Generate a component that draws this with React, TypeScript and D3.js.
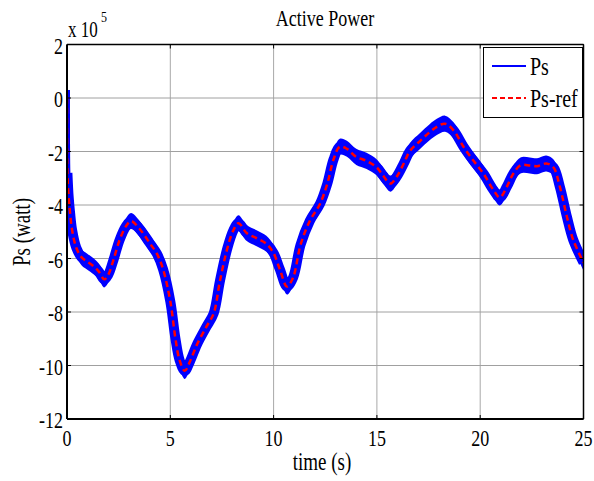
import * as d3 from 'd3';

// time (s) and active power (x 1e5 W)
const timeS = [0, 0.02, 0.08, 0.15, 0.25, 0.45, 0.7, 0.95, 1.3, 1.55, 1.8, 2.0, 2.25, 2.55, 2.85, 3.1, 3.5, 4.0, 4.35, 4.65, 5.0, 5.25, 5.45, 5.7, 5.95, 6.3, 6.75, 7.1, 7.4, 7.75, 8.05, 8.3, 8.7, 9.2, 9.65, 10.0, 10.3, 10.65, 10.95, 11.3, 11.75, 12.25, 12.6, 12.9, 13.2, 13.55, 14.0, 14.5, 15.0, 15.3, 15.65, 15.95, 16.3, 16.6, 17.1, 17.55, 17.9, 18.3, 18.7, 19.2, 19.65, 20.15, 20.65, 20.95, 21.3, 21.6, 21.95, 22.4, 22.75, 23.2, 23.55, 23.85, 24.2, 24.5, 25];
const psRef = [0, -2.8, -3.7, -4.3, -4.95, -5.6, -5.95, -6.1, -6.3, -6.5, -6.78, -6.6, -6.05, -5.3, -4.8, -4.6, -4.88, -5.42, -5.82, -6.4, -7.6, -9.0, -9.8, -10.2, -9.85, -9.2, -8.55, -8.05, -6.85, -5.65, -4.95, -4.68, -5.05, -5.25, -5.45, -5.8, -6.4, -7.05, -6.7, -5.5, -4.6, -3.95, -3.2, -2.3, -1.82, -1.9, -2.2, -2.35, -2.6, -2.9, -3.2, -2.95, -2.45, -1.98, -1.6, -1.28, -1.08, -0.96, -1.2, -1.83, -2.32, -2.82, -3.45, -3.72, -3.3, -2.83, -2.52, -2.52, -2.55, -2.45, -2.6, -3.3, -4.45, -5.3, -6.15];
const ps = psRef.map((v, i) => (i === 0 ? 0.3 : v));
const psRipple = 0.3; // +/- band of the measured power

const xTicks = [0, 5, 10, 15, 20, 25];
const yTicks = [2, 0, -2, -4, -6, -8, -10, -12];

const W = 594, H = 481;
const m = { left: 67, right: 583.5, top: 44.5, bottom: 419 };
const FONT = '"Liberation Serif", "Times New Roman", serif';
const SY = 1.3;

function T({ x, y, size = 18, anchor = 'middle', rot = 0, children }: any) {
  return (
    <text transform={`translate(${x},${y}) rotate(${rot}) scale(1,${SY})`}
      fontFamily={FONT} fontSize={size} textAnchor={anchor} fill="#000">{children}</text>
  );
}

export default function App() {
  const x = d3.scaleLinear().domain([0, 25]).range([m.left, m.right]);
  const y = d3.scaleLinear().domain([-12, 2]).range([m.bottom, m.top]);

  const ptsPs = timeS.map((t, i) => ({ t, v: ps[i] }));
  const ptsRef = timeS.map((t, i) => ({ t, v: psRef[i] }));

  const curve = d3.curveCatmullRom.alpha(0.5);
  const line = d3.line<any>().x(d => x(d.t)).y(d => y(d.v)).curve(curve);
  const band = d3.area<any>().x(d => x(d.t))
    .y0(d => y(d.v - psRipple)).y1(d => y(d.v + psRipple)).curve(curve);

  return (
    <svg width={W} height={H} style={{ position: 'absolute', left: 0, top: 0, background: '#fff' }}>
      <defs>
        <clipPath id="plot">
          <rect x={m.left} y={m.top} width={m.right - m.left} height={m.bottom - m.top} />
        </clipPath>
      </defs>

      {/* grid */}
      {xTicks.map(t => (
        <line key={'gx' + t} x1={x(t)} x2={x(t)} y1={m.top} y2={m.bottom} stroke="#a8a8a8" strokeWidth={1} />
      ))}
      {yTicks.map(t => (
        <line key={'gy' + t} x1={m.left} x2={m.right} y1={y(t)} y2={y(t)} stroke="#a0a0a0" strokeWidth={1} />
      ))}

      {/* series */}
      <g clipPath="url(#plot)">
        <path d={band(ptsPs.slice(2)) || ''} fill="#0000ff" />
        <path d={line(ptsPs.slice(0, 3)) || ''} fill="none" stroke="#0000ff" strokeWidth={6} />
        <path d={line(ptsPs.slice(1)) || ''} fill="none" stroke="#0000ff" strokeWidth={10} strokeLinejoin="round" />
        <path d={line(ptsRef) || ''} fill="none" stroke="#ff0000" strokeWidth={2.5} strokeDasharray="6,4" />
      </g>

      {/* ticks inward, all sides */}
      {xTicks.map(t => (
        <g key={'tx' + t}>
          <line x1={x(t)} x2={x(t)} y1={m.bottom} y2={m.bottom - 4} stroke="#000" />
          <line x1={x(t)} x2={x(t)} y1={m.top} y2={m.top + 4} stroke="#000" />
        </g>
      ))}
      {yTicks.map(t => (
        <g key={'ty' + t}>
          <line x1={m.left} x2={m.left + 4} y1={y(t)} y2={y(t)} stroke="#000" />
          <line x1={m.right} x2={m.right - 4} y1={y(t)} y2={y(t)} stroke="#000" />
        </g>
      ))}

      {/* box */}
      <line x1={m.left} x2={m.right} y1={m.top} y2={m.top} stroke="#000" strokeWidth={1.5} />
      <line x1={m.right} x2={m.right} y1={m.top} y2={m.bottom} stroke="#000" strokeWidth={1.5} />
      <line x1={m.left} x2={m.right} y1={m.bottom} y2={m.bottom} stroke="#000" strokeWidth={2} />
      <line x1={m.left} x2={m.left} y1={m.top} y2={m.bottom} stroke="#000" strokeWidth={2} />

      {/* tick labels */}
      {xTicks.map(t => (
        <T key={'lx' + t} x={x(t)} y={m.bottom + 27}>{t}</T>
      ))}
      {yTicks.map(t => (
        <T key={'ly' + t} x={m.left - 4} y={y(t) + 9} anchor="end">{t}</T>
      ))}

      {/* exponent */}
      <T x={m.left + 1} y={37} anchor="start" size={17}>x 10</T>
      <T x={m.left + 34} y={22} anchor="start" size={12}>5</T>

      {/* titles */}
      <T x={325} y={26}>Active Power</T>
      <T x={322} y={470} size={19}>time (s)</T>
      <T x={30} y={232} rot={-90} size={19}>Ps (watt)</T>

      {/* legend */}
      <rect x={483.5} y={47.5} width={99} height={70} fill="#fff" stroke="#000" strokeWidth={1} />
      <line x1={492} x2={526} y1={66} y2={66} stroke="#0000ff" strokeWidth={2} />
      <line x1={492} x2={526} y1={98} y2={98} stroke="#ff0000" strokeWidth={2} strokeDasharray="5,3" />
      <T x={530} y={75} anchor="start" size={20}>Ps</T>
      <T x={530} y={107} anchor="start" size={20}>Ps-ref</T>
    </svg>
  );
}
